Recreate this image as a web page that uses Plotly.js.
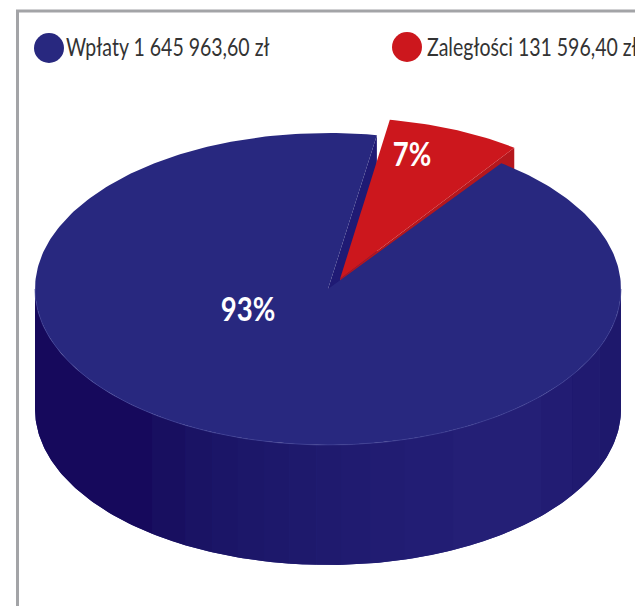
<!DOCTYPE html>
<html><head><meta charset="utf-8">
<script src="https://cdn.plot.ly/plotly-3.0.1.min.js"></script>
<style>html,body{margin:0;padding:0;background:#fff;overflow:hidden}</style>
</head><body><div id="chart" style="width:635px;height:606px"></div>
<script>
// Data
const categories = ['Wpłaty', 'Zaległości'];
const amounts = [1645963.60, 131596.40];
const amountLabels = ['1 645 963,60 zł', '131 596,40 zł'];
const percentLabels = ['93%', '7%'];

// Style
const sliceColors = ['#28287f', '#cc171d'];
const redWall = '#b5171d';
const blueCutWall = '#1f1a74';
const wallBandEdges = [90,112,123.6,133.4,154.7,164.8,171.6,177.3,182.3,187.5,192.6,197.9,203.3,209.2,216.9,270];
const wallBandColors = ['#1e186c','#201a70','#221c73','#241f76','#221d74','#211c72','#201b70','#1f1a6e','#1e196c','#1d186b','#1c1769','#1b1567','#1a1364','#180f60','#16095c'];

// Projection of the flat pie onto the page
const cx = 328, cy = 289, rx = 293, ry = 156, depth = 120;
const startDeg = 9.6;                    // clockwise from top where the red slice begins
const explode = {dx: 13, dy: -15.5};     // red rim pulled out
const apexShift = {dx: 12, dy: -10};     // red tip pulled out
const total = amounts[0] + amounts[1];
const redEnd = startDeg + amounts[1] / total * 360;
const rad = d => d * Math.PI / 180;
const P = (d, off = {dx:0, dy:0}, h = 0) => [cx + off.dx + rx * Math.sin(rad(d)), cy + off.dy - ry * Math.cos(rad(d)) + h];
const arc = (a, b, off, h) => { const n = Math.max(2, Math.ceil(Math.abs(b - a))); const out = []; for (let i = 0; i <= n; i++) out.push(P(a + (b - a) * i / n, off, h)); return out; };
const shape = (pts, color, name) => ({type:'scatter', mode:'lines', x:pts.map(p=>p[0]), y:pts.map(p=>p[1]), fill:'toself', fillcolor:color, line:{width:0, color:color}, hoverinfo:'skip', showlegend:false, name:name||''});

const traces = [];
// wall of the blue slice, visible through the gap
const c0 = [cx, cy], c0b = [cx, cy + depth];
traces.push(shape([c0, P(startDeg), P(startDeg,undefined,depth), c0b, c0], blueCutWall, 'cut'));
// red slice: walls, then top
const apex = [cx + apexShift.dx, cy + apexShift.dy], apexB = [apex[0], apex[1] + depth];
traces.push(shape([apex, P(redEnd,explode), P(redEnd,explode,depth), apexB, apex], redWall, 'red wall'));
traces.push(shape([apex, ...arc(startDeg, redEnd, explode, 0), apex], sliceColors[1], categories[1]));
// blue outer wall: base, then front bands
const wallBase = [...arc(90, 270, undefined, 0), ...arc(270, 90, undefined, depth)];
traces.push(shape([...wallBase, wallBase[0]], '#28277c', 'wall'));
wallBandColors.forEach((col, i) => {
  const a = wallBandEdges[i], b = wallBandEdges[i + 1];
  const band = [...arc(a, b, undefined, 0), ...arc(b, a, undefined, depth)];
  traces.push(shape([...band, band[0]], col, 'wall band'));
});
// blue top
const blueTop = [c0, ...arc(redEnd, startDeg + 360, undefined, 0), c0];
traces.push(shape(blueTop, sliceColors[0], categories[0]));
// faint rim along the front of the top
const rim = arc(90, 270, undefined, 0);
traces.push({type:'scatter', mode:'lines', x:rim.map(p=>p[0]), y:rim.map(p=>p[1]), line:{width:0.7, color:'#45469a'}, hoverinfo:'skip', showlegend:false});

// legend keys and labels
traces.push({type:'scatter', mode:'markers', x:[49,407], y:[48,47], marker:{size:30, color:sliceColors, line:{width:0}}, hoverinfo:'skip', showlegend:false});
traces.push({type:'scatter', mode:'text', x:[66,427], y:[50,50],
  text:categories.map((c,i)=>c + ' ' + amountLabels[i]), textposition:'middle right',
  textfont:{family:'Lato, "Noto Sans", sans-serif', size:25, color:'#333333'}, hoverinfo:'skip', showlegend:false, cliponaxis:false});
// percent labels
traces.push({type:'scatter', mode:'text', x:[248,412], y:[313,158], text:percentLabels, textposition:'middle center',
  textfont:{family:'Lato, "Noto Sans", sans-serif', size:32, color:'#ffffff', weight:700}, hoverinfo:'skip', showlegend:false});

const layout = {
  width:635, height:606, margin:{l:0,r:0,t:0,b:0}, paper_bgcolor:'#fff', plot_bgcolor:'#fff', showlegend:false, hovermode:false,
  xaxis:{visible:false, range:[0,635], fixedrange:true},
  yaxis:{visible:false, range:[606,0], fixedrange:true},
  shapes:[{type:'rect', layer:'below', xref:'x', yref:'y', x0:17.5, y0:11, x1:720, y1:720, line:{color:'#a3a4a7', width:3}, fillcolor:'rgba(0,0,0,0)'}]
};
Plotly.newPlot('chart', traces, layout, {displayModeBar:false, staticPlot:true}).then(gd => {
  // the reference type is condensed: narrow the real text without changing its height
  gd.querySelectorAll('.textpoint text').forEach(t => {
    const isPct = percentLabels.includes(t.textContent);
    const w = t.getComputedTextLength();
    t.setAttribute('lengthAdjust', 'spacingAndGlyphs');
    t.setAttribute('textLength', (w * (isPct ? 0.86 : 0.78)).toFixed(1));
  });
});
</script></body></html>
